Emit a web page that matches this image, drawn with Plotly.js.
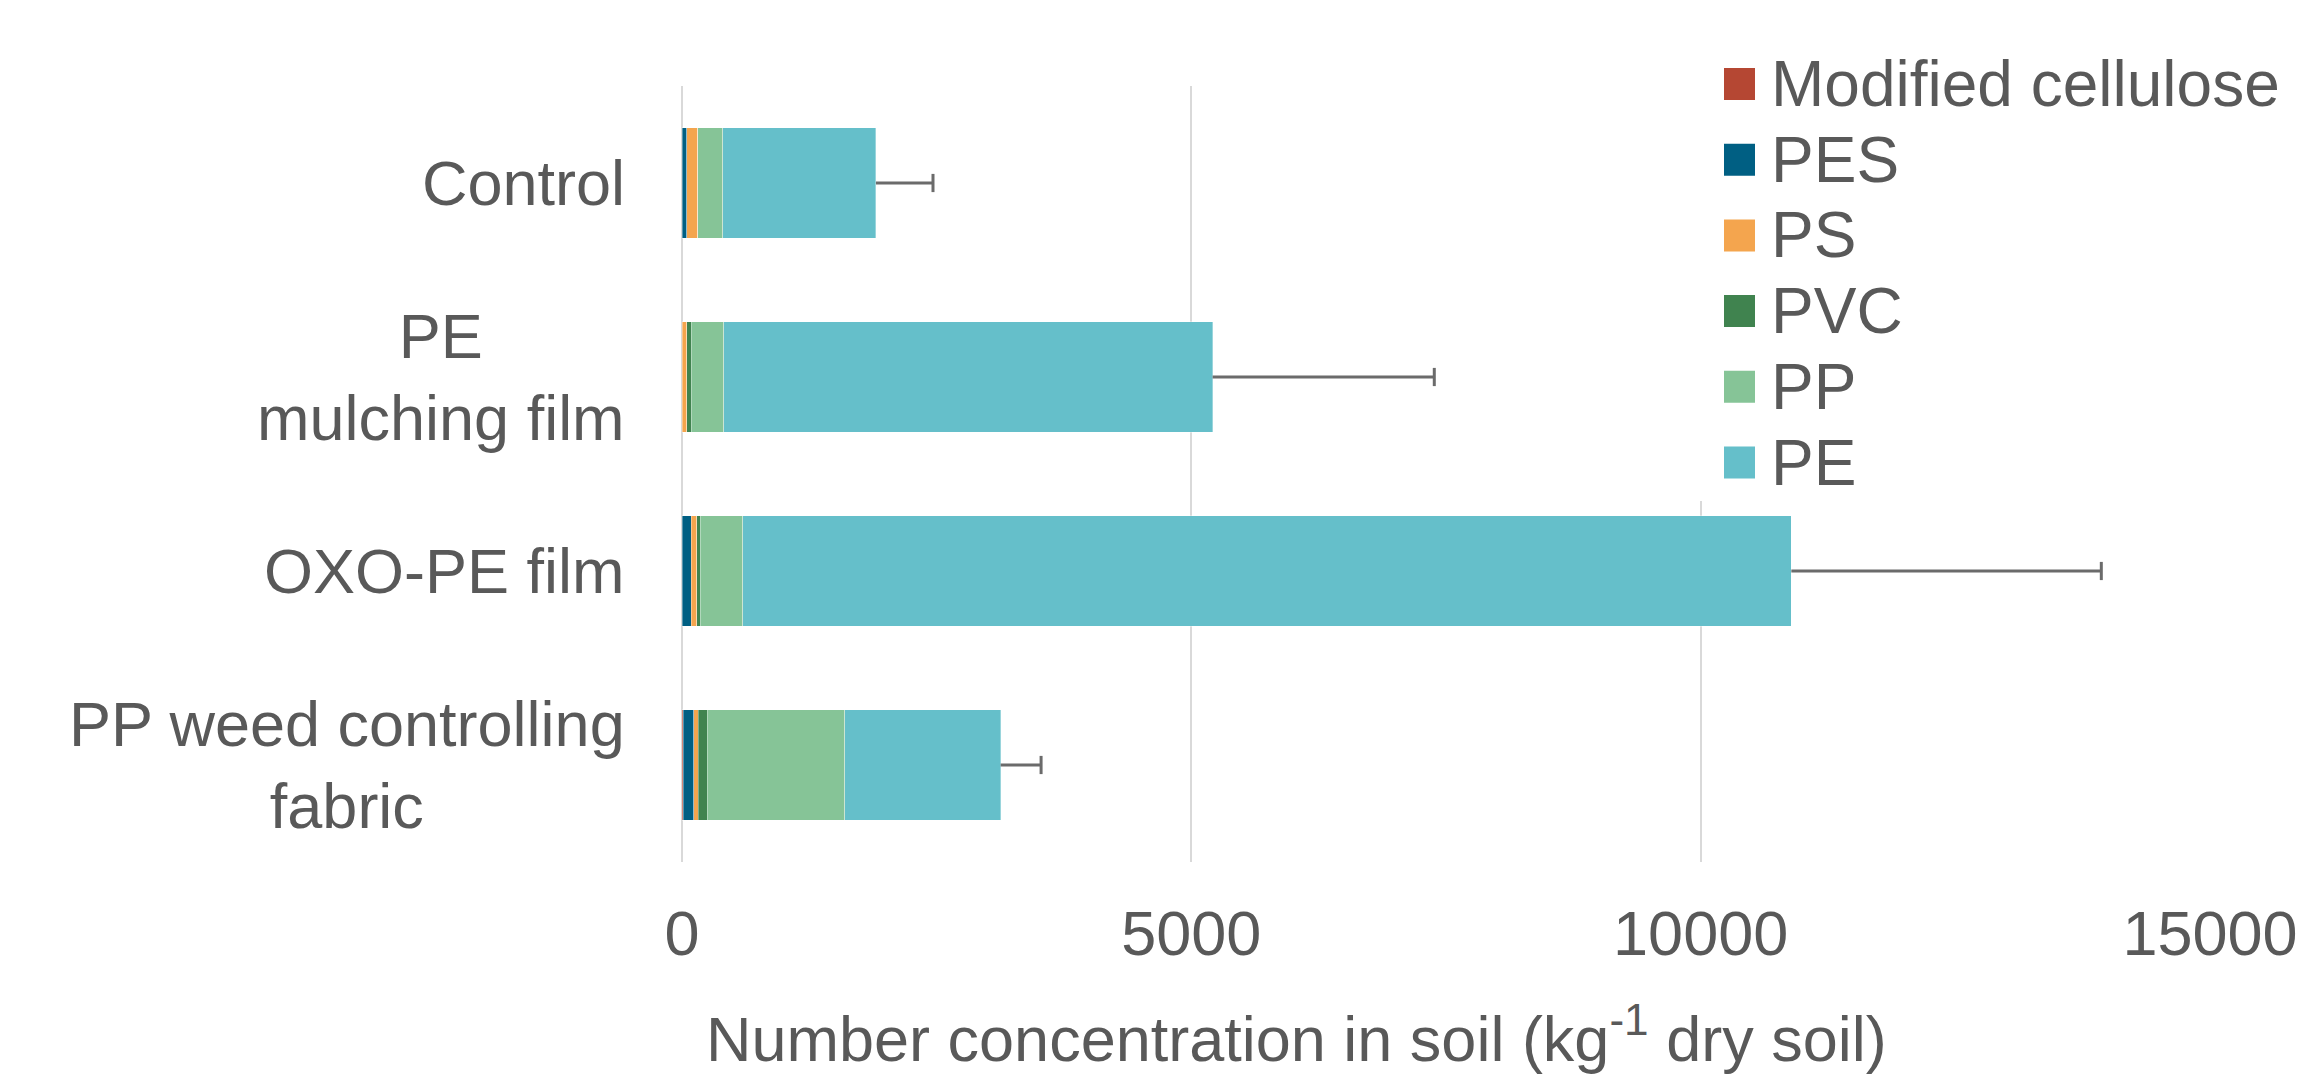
<!DOCTYPE html>
<html>
<head>
<meta charset="utf-8">
<script src="https://cdn.plot.ly/plotly-3.0.1.min.js"></script>
<style>html,body{margin:0;padding:0;background:#fff}#chart{width:2306px;height:1076px}</style>
</head>
<body>
<div id="chart"></div>
<script>
// ---- data ----
const categories = ['Control', 'PE mulching film', 'OXO-PE film', 'PP weed controlling fabric'];
const categoryLabels = ['Control', 'PE<br>mulching film', 'OXO-PE film', 'PP weed controlling<br>fabric'];
const seriesNames = ['Modified cellulose', 'PES', 'PS', 'PVC', 'PP', 'PE'];
const modifiedCellulose = [0, 0, 0, 10];
const pes = [49, 0, 91, 104];
const ps = [108, 49, 52, 46];
const pvc = [0, 42, 36, 88];
const pp = [242, 317, 415, 1348];
const pe = [1505, 4801, 10296, 1532];
const totalError = [560, 2176, 3043, 397];
const seriesColors = ['#b54733', '#005f83', '#f4a54e', '#40834f', '#86c497', '#65bfca'];
const xTicks = [0, 5000, 10000, 15000];

const seriesValues = [modifiedCellulose, pes, ps, pvc, pp, pe];
const FONT = 'Liberation Sans, Arial, sans-serif';
const TXT = '#595959';
const W = 2306, H = 1076;
const L = 682, R = 2210, T = 86, B = 862;
const px = v => (v - L) / (R - L);
const py = v => (B - v) / (B - T);

const traces = seriesNames.map((name, i) => ({
  type: 'bar', orientation: 'h', name: name,
  y: categories, x: seriesValues[i],
  marker: {color: seriesColors[i], line: {color: 'rgba(255,255,255,0.35)', width: 1}},
  hoverinfo: 'x+name'
}));

// error bars: plus-only, starting at the end of each stacked bar
const stackTotals = categories.map((c, j) => seriesValues.reduce((s, arr) => s + arr[j], 0));
traces.push({
  type: 'scatter', mode: 'markers', name: 'error', showlegend: false, hoverinfo: 'skip',
  y: categories, x: stackTotals.map((t, j) => t + totalError[j]),
  marker: {symbol: 'line-ns-open', size: 13, color: '#6b6b6b', line: {color: '#6b6b6b', width: 3}},
  error_x: {type: 'data', symmetric: false, array: totalError.map(() => 0), arrayminus: totalError,
    color: '#6b6b6b', thickness: 2.8, width: 0}
});

const annotations = [];
categories.forEach((c, i) => {
  annotations.push({xref: 'paper', yref: 'y', x: 0, y: c, xanchor: 'right', yanchor: 'middle',
    xshift: -55, align: 'center', showarrow: false, text: categoryLabels[i],
    font: {family: FONT, size: 63, color: TXT}});
});
annotations.push({xref: 'paper', yref: 'paper', x: px(1296), y: py(1034), xanchor: 'center', yanchor: 'middle',
  showarrow: false, text: 'Number concentration in soil (kg<sup>-1</sup> dry soil)',
  font: {family: FONT, size: 63, color: TXT}});

const shapes = [{type: 'rect', xref: 'paper', yref: 'paper', x0: px(1680), x1: px(2306), y0: py(501), y1: py(0),
  fillcolor: '#ffffff', line: {width: 0}, layer: 'above'}];
const legendTop = 84, legendStep = 75.7;
seriesNames.forEach((n, i) => {
  const cy = legendTop + i * legendStep;
  shapes.push({type: 'rect', xref: 'paper', yref: 'paper', x0: px(1724), x1: px(1755), y0: py(cy + 16), y1: py(cy - 16),
    fillcolor: seriesColors[i], line: {width: 0}, layer: 'above'});
  annotations.push({xref: 'paper', yref: 'paper', x: px(1772), y: py(cy), xanchor: 'left', yanchor: 'middle',
    xshift: -3, showarrow: false, text: n, font: {family: FONT, size: 64, color: TXT}});
});

const layout = {
  width: W, height: H,
  margin: {l: L, r: W - R, t: T, b: H - B, pad: 0},
  paper_bgcolor: '#ffffff', plot_bgcolor: '#ffffff',
  barmode: 'stack', bargap: 0.428, showlegend: false,
  font: {family: FONT, size: 63, color: TXT},
  xaxis: {range: [0, 15000], tickvals: xTicks, ticktext: xTicks.map(String), showgrid: true, gridcolor: '#d9d9d9', gridwidth: 2,
    zeroline: true, zerolinecolor: '#d9d9d9', zerolinewidth: 2, showline: false, ticks: '',
    ticklabelstandoff: 29, tickfont: {family: FONT, size: 63, color: TXT}},
  yaxis: {type: 'category', categoryorder: 'array', categoryarray: categories, autorange: 'reversed',
    showgrid: false, zeroline: false, showline: false, showticklabels: false, ticks: ''},
  annotations: annotations, shapes: shapes
};

Plotly.newPlot('chart', traces, layout, {displayModeBar: false, staticPlot: true});
</script>
</body>
</html>
